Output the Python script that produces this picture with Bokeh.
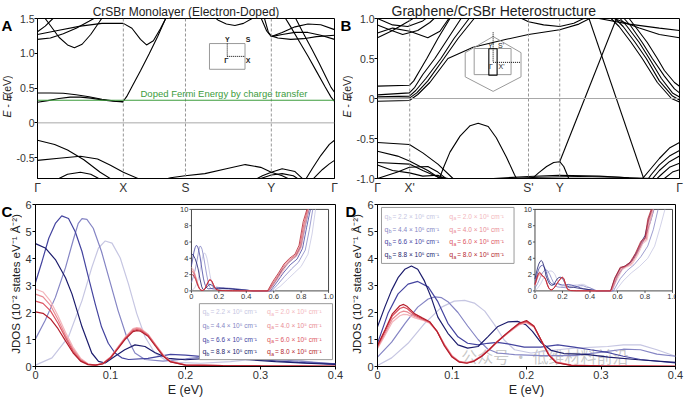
import math
from bokeh.plotting import figure
from bokeh.models import Range1d, FixedTicker, Span
from bokeh.layouts import column, row
from bokeh.embed import file_html
from bokeh.resources import INLINE
from bokeh.core.properties import value

FONT = "Liberation Sans"
GREEN = "#3c9c3c"
BLUES = ["#c6c6e2", "#8585c4", "#44449f", "#1c1c6c"]
REDS = ["#f3b6bc", "#e98b94", "#dc5461", "#b41e2c"]

# ================= Panel A : CrSBr monolayer =================
A_TITLE = "CrSBr Monolayer (Electron-Doped)"
A_KTICKS = [0.0, 1.0, 1.724, 2.724, 3.46]
A_KLABELS = ["Γ", "X", "S", "Y", "Γ"]
A_ETICKS = [-0.5, 0.0, 0.5, 1.0, 1.5]
A_ELABELS = ["-0.5", "0", "0.5", "1.0", "1.5"]
A_ERANGE = [-0.8, 1.5]
A_FERMI = 0.325
A_FERMI_TEXT = "Doped Fermi Energy by charge transfer"

A_CB1 = ([1.0, 1.04, 1.1, 1.2, 1.3, 1.4, 1.5], [0.31, 0.38, 0.52, 0.75, 0.99, 1.24, 1.52])
A_CB2 = ([1.0, 1.1, 1.2, 1.27, 1.35, 1.43, 1.52], [1.43, 1.36, 1.2, 1.12, 1.18, 1.35, 1.56])
A_FA = ([0.0, 0.15, 0.3, 0.45, 0.6, 0.75, 0.9, 1.0], [0.43, 0.43, 0.425, 0.405, 0.375, 0.34, 0.315, 0.305])
A_FB = ([0.0, 0.12, 0.25, 0.38, 0.5, 0.62, 0.75, 0.88, 1.0], [0.295, 0.32, 0.35, 0.37, 0.37, 0.355, 0.33, 0.31, 0.3])
A_TA1 = ([0.0, 0.25, 0.5, 0.75, 1.0], [1.27, 1.33, 1.39, 1.43, 1.43])
A_TA2 = ([0.0, 0.15, 0.3, 0.45, 0.6, 0.7], [1.2, 1.22, 1.28, 1.36, 1.46, 1.53])
A_TA3 = ([0.0, 0.09, 0.18, 0.22], [1.31, 1.39, 1.5, 1.55])
A_TA4 = ([0.06, 0.15, 0.25, 0.35, 0.43, 0.52, 0.62, 0.72, 0.78], [1.55, 1.4, 1.23, 1.12, 1.08, 1.13, 1.27, 1.45, 1.56])
A_SY1 = ([2.0, 2.1, 2.2, 2.3, 2.4, 2.5, 2.58], [1.58, 1.48, 1.42, 1.4, 1.43, 1.5, 1.58])
A_YG1 = ([2.6, 2.67, 2.724, 2.85, 3.0, 3.15, 3.3, 3.46], [1.52, 1.32, 1.24, 1.3, 1.38, 1.42, 1.41, 1.34])
A_YG2 = ([2.724, 2.85, 3.0, 3.15, 3.3, 3.46], [1.24, 1.27, 1.3, 1.3, 1.26, 1.2])
A_YG3 = ([2.64, 2.69, 2.724, 2.8, 2.95, 3.1, 3.25, 3.46], [1.52, 1.3, 1.25, 1.22, 1.2, 1.21, 1.24, 1.26])
A_CBR1 = ([3.46, 3.42, 3.35, 3.25, 3.15, 3.05, 2.95, 2.85], [0.31, 0.37, 0.52, 0.74, 0.96, 1.17, 1.38, 1.58])
A_CBR2 = ([3.46, 3.42, 3.36, 3.28, 3.2, 3.1, 3.0], [0.44, 0.51, 0.66, 0.86, 1.05, 1.28, 1.52])
A_VA1 = ([0.0, 0.2, 0.35, 0.54, 0.73, 0.86, 0.92], [-0.25, -0.31, -0.39, -0.53, -0.71, -0.81, -0.86])
A_VA2 = ([0.0, 0.25, 0.5, 0.7, 0.85, 1.0, 1.19, 1.3], [-0.54, -0.51, -0.48, -0.52, -0.61, -0.71, -0.81, -0.86])
A_VA3 = ([0.2, 0.35, 0.5, 0.62, 0.76], [-0.83, -0.74, -0.71, -0.74, -0.83])
A_VA4 = ([1.4, 1.55, 1.72, 1.95, 2.2, 2.42, 2.6, 2.724, 2.85, 2.97], [-0.84, -0.79, -0.76, -0.73, -0.66, -0.6, -0.64, -0.71, -0.76, -0.83])
A_VA5 = ([2.5, 2.62, 2.724, 2.85, 3.0, 3.12], [-0.84, -0.76, -0.71, -0.66, -0.7, -0.84])
A_VA6 = ([2.6, 2.724, 2.85, 2.98, 3.08], [-0.8, -0.75, -0.73, -0.76, -0.84])
A_VA7 = ([3.46, 3.4, 3.3, 3.2, 3.1], [-0.25, -0.31, -0.47, -0.66, -0.86])
A_VA8 = ([3.46, 3.4, 3.32, 3.24, 3.17], [-0.54, -0.59, -0.67, -0.77, -0.86])
BANDS_A = [A_CB1, A_CB2, A_FA, A_FB, A_TA1, A_TA2, A_TA3, A_TA4, A_SY1, A_YG1, A_YG2,
           A_YG3, A_CBR1, A_CBR2, A_VA1, A_VA2, A_VA3, A_VA4, A_VA5, A_VA6, A_VA7, A_VA8]

# ================= Panel B : Graphene/CrSBr =================
B_TITLE = "Graphene/CrSBr Heterostructure"
B_KTICKS = [0.0, 0.32, 1.5, 1.81, 3.0]
B_KLABELS = ["Γ", "X'", "S'", "Y", "Γ"]
B_ETICKS = [-1.0, -0.5, 0.0, 0.5, 1.0]
B_ELABELS = ["-1.0", "-0.5", "0", "0.5", "1.0"]
B_ERANGE = [-1.0, 1.0]

B_CL1 = ([0.0, 0.317, 0.36, 0.42, 0.49, 0.6, 0.72, 0.76], [0.155, 0.165, 0.22, 0.35, 0.5, 0.75, 1.0, 1.08])
B_CL2 = ([0.0, 0.317, 0.37, 0.45, 0.57, 0.7, 0.83, 0.87], [0.045, 0.07, 0.14, 0.3, 0.5, 0.75, 1.0, 1.08])
B_CL3 = ([0.0, 0.317, 0.38, 0.48, 0.63, 0.76, 0.91, 0.95], [0.02, 0.03, 0.1, 0.25, 0.5, 0.75, 1.0, 1.08])
B_CL4 = ([0.0, 0.317, 0.39, 0.5, 0.66, 0.8, 0.96, 1.0], [0.0, 0.005, 0.07, 0.22, 0.5, 0.75, 1.0, 1.08])
B_CL5 = ([0.0, 0.317, 0.4, 0.52, 0.7, 0.95, 1.28, 1.5, 1.81, 2.0, 2.14], [-0.035, -0.025, 0.05, 0.2, 0.5, 0.64, 0.74, 0.8, 0.86, 0.93, 1.02])
B_T1 = ([1.4, 1.5, 1.65, 1.81, 1.95, 2.08], [1.02, 0.96, 0.92, 0.9, 0.94, 1.02])
B_T2 = ([0.0, 0.15, 0.3, 0.38], [0.76, 0.85, 0.96, 1.02])
B_T3 = ([0.0, 0.15, 0.32, 0.5, 0.62, 0.72], [0.82, 0.88, 0.84, 0.76, 0.84, 1.02])
B_T4 = ([0.0, 0.12, 0.25, 0.4, 0.52, 0.58], [0.92, 0.86, 0.8, 0.85, 0.95, 1.02])
B_T5 = ([0.0, 0.15, 0.3, 0.45, 0.5], [1.0, 0.92, 0.9, 0.97, 1.02])
B_T6 = ([2.2, 2.5, 2.8, 3.0], [1.0, 0.93, 0.88, 0.85])
B_T7 = ([2.35, 2.6, 2.8, 3.0], [1.0, 0.88, 0.8, 0.76])
B_D1 = ([2.09, 2.655], [1.04, -1.04])
B_D2 = ([1.81, 2.38], [-0.79, 1.02])
B_V1 = ([0.6, 0.66, 0.72, 0.82, 0.92, 1.0, 1.1, 1.18, 1.28, 1.36, 1.4], [-1.05, -0.85, -0.67, -0.47, -0.34, -0.31, -0.35, -0.49, -0.73, -0.95, -1.05])
B_V2 = ([1.52, 1.6, 1.68, 1.75, 1.81, 1.85, 1.9], [-1.02, -0.93, -0.85, -0.8, -0.79, -0.85, -1.0])
B_F1 = ([1.15, 1.5, 1.8, 2.2, 2.5, 2.75], [-1.0, -0.975, -0.96, -0.97, -0.99, -1.0])
B_F2 = ([1.3, 1.6, 2.0, 2.4, 2.6], [-1.0, -0.985, -0.975, -0.985, -1.0])
B_VL1 = ([0.0, 0.317, 0.45, 0.6, 0.75], [-0.55, -0.575, -0.68, -0.82, -1.0])
B_VL2 = ([0.0, 0.2, 0.317, 0.5, 0.62], [-0.66, -0.72, -0.78, -0.9, -1.0])
B_VL3 = ([0.0, 0.317, 0.45, 0.6, 0.8], [-0.8, -0.82, -0.9, -0.98, -1.02])
B_VL4 = ([0.0, 0.15, 0.317, 0.45, 0.6, 0.7], [-0.83, -0.9, -0.93, -0.97, -0.96, -1.02])
B_VL5 = ([0.0, 0.2, 0.317, 0.5, 0.6, 0.7], [-1.0, -0.92, -0.86, -0.85, -0.92, -1.02])
B_R1 = ([3.0, 2.95, 2.85, 2.78, 2.68, 2.56, 2.5, 2.47], [0.153, 0.2, 0.35, 0.5, 0.7, 0.9, 1.0, 1.05])
B_R2 = ([3.0, 2.95, 2.85, 2.73, 2.63, 2.52, 2.45, 2.42], [0.07, 0.12, 0.28, 0.5, 0.7, 0.9, 1.0, 1.05])
B_R3 = ([3.0, 2.93, 2.82, 2.7, 2.6, 2.48, 2.41, 2.38], [0.02, 0.07, 0.25, 0.5, 0.7, 0.9, 1.0, 1.05])
B_R4 = ([3.0, 2.93, 2.8, 2.67, 2.56, 2.44, 2.36, 2.33], [-0.02, 0.03, 0.22, 0.5, 0.7, 0.9, 1.0, 1.05])
B_R5 = ([3.0, 2.92, 2.78, 2.63, 2.52, 2.4, 2.32, 2.29], [-0.045, 0.0, 0.2, 0.5, 0.7, 0.9, 1.0, 1.05])
B_RV1 = ([3.0, 2.9, 2.8, 2.7, 2.62], [-0.55, -0.62, -0.75, -0.9, -1.02])
B_RV2 = ([3.0, 2.9, 2.8, 2.72, 2.68], [-0.65, -0.72, -0.83, -0.95, -1.02])
B_RV3 = ([3.0, 2.9, 2.8, 2.72], [-0.72, -0.79, -0.9, -1.02])
B_RV4 = ([3.0, 2.9, 2.82, 2.76], [-0.81, -0.86, -0.95, -1.02])
B_RV5 = ([2.85, 2.93, 3.0], [-1.0, -0.92, -0.89])
BANDS_B = [B_CL1, B_CL2, B_CL3, B_CL4, B_CL5, B_T1, B_T2, B_T3, B_T4, B_T5, B_T6, B_T7,
           B_D1, B_D2, B_V1, B_V2, B_F1, B_F2, B_VL1, B_VL2, B_VL3, B_VL4, B_VL5,
           B_R1, B_R2, B_R3, B_R4, B_R5, B_RV1, B_RV2, B_RV3, B_RV4, B_RV5]

# ================= JDOS common =================
JD_ETICKS = [0.0, 0.1, 0.2, 0.3, 0.4]
JD_ELABELS = ["0", "0.1", "0.2", "0.3", "0.4"]
JD_JTICKS = [0, 1, 2, 3, 4, 5, 6]
JD_XLABEL = "E (eV)"
JD_YLABEL = "JDOS (10⁻² states eV⁻¹ Å⁻²)"
INSET_XLIM = [0.0, 1.0]
INSET_YLIM = [0.0, 10.0]
INSET_XTICKS = [0.0, 0.2, 0.4, 0.6, 0.8, 1.0]
INSET_XLABELS = ["0", "0.2", "0.4", "0.6", "0.8", "1.0"]
INSET_YTICKS = [0, 2, 4, 6, 8, 10]
INSET_YLABELS = ["0", "2", "4", "6", "8", "10"]
Q_B = ["2.2", "4.4", "6.6", "8.8"]
Q_A = ["2.0", "4.0", "6.0", "8.0"]

# ---- Panel C (monolayer) ----
C_B22 = ([0, 0.022, 0.044, 0.062, 0.075, 0.084, 0.093, 0.102, 0.113, 0.124, 0.135, 0.146, 0.159, 0.172, 0.19, 0.22, 0.26, 0.3, 0.34, 0.37, 0.4],
         [0.05, 0.32, 1.1, 2.44, 3.66, 4.39, 4.65, 4.57, 4.02, 3.05, 1.96, 1.1, 0.5, 0.26, 0.15, 0.12, 0.18, 0.3, 0.28, 0.15, 0.05])
C_B44 = ([0, 0.013, 0.0265, 0.04, 0.051, 0.057, 0.062, 0.0685, 0.077, 0.088, 0.099, 0.11, 0.1215, 0.1326, 0.146, 0.17, 0.2, 0.23, 0.27, 0.32, 0.36, 0.4],
         [1.02, 1.71, 2.56, 3.66, 4.75, 5.3, 5.48, 5.45, 5.12, 4.26, 3.17, 2.08, 1.1, 0.5, 0.26, 0.2, 0.28, 0.38, 0.34, 0.26, 0.18, 0.1])
C_B66 = ([0, 0.0088, 0.0177, 0.0265, 0.035, 0.044, 0.053, 0.062, 0.0707, 0.0796, 0.088, 0.097, 0.106, 0.115, 0.124, 0.15, 0.18, 0.2, 0.25, 0.3, 0.35, 0.4],
         [3.11, 3.9, 4.75, 5.3, 5.58, 5.48, 4.99, 4.26, 3.29, 2.32, 1.47, 0.86, 0.5, 0.32, 0.26, 0.3, 0.45, 0.42, 0.3, 0.25, 0.15, 0.1])
C_B88 = ([0, 0.013, 0.0265, 0.04, 0.0486, 0.062, 0.075, 0.084, 0.093, 0.106, 0.119, 0.1326, 0.146, 0.159, 0.177, 0.2, 0.23, 0.27, 0.32, 0.36, 0.4],
         [4.55, 4.39, 3.96, 3.29, 2.69, 1.47, 0.5, 0.19, 0.13, 0.38, 0.62, 0.8, 0.74, 0.52, 0.3, 0.25, 0.3, 0.28, 0.18, 0.12, 0.08])
C_RED_E = [0, 0.01, 0.02, 0.03, 0.04, 0.05, 0.06, 0.07, 0.08, 0.09, 0.1, 0.11, 0.12, 0.13, 0.135, 0.14, 0.15, 0.16, 0.17, 0.18, 0.2, 0.25, 0.3, 0.4]
C_A20 = [2.87, 2.76, 2.42, 1.88, 1.27, 0.72, 0.31, 0.1, 0.05, 0.12, 0.35, 0.73, 1.1, 1.4, 1.44, 1.42, 1.2, 0.82, 0.45, 0.2, 0.06, 0.03, 0.02, 0.01]
C_A40 = [2.68, 2.58, 2.26, 1.74, 1.16, 0.64, 0.27, 0.09, 0.05, 0.12, 0.34, 0.71, 1.08, 1.37, 1.41, 1.39, 1.18, 0.8, 0.43, 0.19, 0.06, 0.03, 0.02, 0.01]
C_A60 = [2.42, 2.34, 2.06, 1.6, 1.07, 0.57, 0.23, 0.08, 0.05, 0.11, 0.33, 0.69, 1.05, 1.33, 1.37, 1.35, 1.15, 0.78, 0.41, 0.18, 0.05, 0.03, 0.02, 0.01]
C_A80 = [2.02, 1.97, 1.76, 1.4, 0.95, 0.51, 0.2, 0.07, 0.05, 0.1, 0.31, 0.66, 1.02, 1.29, 1.33, 1.31, 1.12, 0.75, 0.39, 0.17, 0.05, 0.03, 0.02, 0.01]
# high-energy parts shown only in the inset
C_B22_HI = ([0.45, 0.6, 0.65, 0.7, 0.75, 0.8, 0.85, 0.88, 0.905], [0, 0, 0.6, 1.4, 2.2, 3.0, 4.5, 7.0, 10])
C_B44_HI = ([0.45, 0.585, 0.63, 0.68, 0.73, 0.78, 0.83, 0.86, 0.885], [0, 0, 0.8, 1.8, 2.7, 3.5, 5.0, 7.5, 10])
C_B66_HI = ([0.45, 0.575, 0.62, 0.67, 0.72, 0.77, 0.81, 0.84, 0.868], [0, 0, 1.0, 2.2, 3.2, 3.9, 5.2, 7.8, 10])
C_B88_HI = ([0.45, 0.565, 0.61, 0.66, 0.71, 0.76, 0.8, 0.83, 0.857], [0, 0, 1.1, 2.5, 3.5, 4.2, 5.5, 8.0, 10])
C_A20_HI = ([0.45, 0.57, 0.61, 0.65, 0.69, 0.73, 0.77, 0.8, 0.83, 0.855], [0, 0, 1.0, 1.9, 3.0, 3.8, 4.3, 5.2, 8.0, 10])
C_A40_HI = ([0.45, 0.565, 0.605, 0.645, 0.685, 0.725, 0.765, 0.795, 0.825, 0.851], [0, 0, 1.05, 2.0, 3.1, 3.85, 4.35, 5.3, 8.1, 10])
C_A60_HI = ([0.45, 0.56, 0.6, 0.64, 0.68, 0.72, 0.76, 0.79, 0.82, 0.847], [0, 0, 1.1, 2.1, 3.2, 3.9, 4.4, 5.4, 8.2, 10])
C_A80_HI = ([0.45, 0.555, 0.595, 0.635, 0.675, 0.715, 0.755, 0.785, 0.815, 0.842], [0, 0, 1.2, 2.2, 3.3, 4.0, 4.5, 5.6, 8.5, 10])

# ---- Panel D (heterostructure) ----
D_B22 = ([0, 0.019, 0.041, 0.063, 0.086, 0.103, 0.117, 0.13, 0.144, 0.157, 0.17, 0.184, 0.206, 0.242, 0.264, 0.309, 0.33, 0.353, 0.375, 0.4],
         [0.04, 0.32, 0.86, 1.59, 2.2, 2.42, 2.45, 2.35, 2.05, 1.55, 0.98, 0.62, 0.5, 0.62, 0.68, 0.74, 0.8, 0.8, 0.62, 0.38])
D_B44 = ([0, 0.019, 0.037, 0.054, 0.068, 0.077, 0.086, 0.0945, 0.108, 0.121, 0.135, 0.148, 0.161, 0.184, 0.219, 0.264, 0.309, 0.33, 0.353, 0.375, 0.4],
         [0.35, 0.9, 1.6, 2.2, 2.5, 2.58, 2.55, 2.4, 2.0, 1.5, 1.0, 0.65, 0.5, 0.44, 0.4, 0.4, 0.56, 0.64, 0.62, 0.46, 0.38])
D_B66 = ([0, 0.014, 0.0276, 0.041, 0.054, 0.068, 0.081, 0.0945, 0.108, 0.121, 0.135, 0.148, 0.161, 0.175, 0.197, 0.219, 0.242, 0.264, 0.286, 0.309, 0.33, 0.353, 0.4],
         [0.86, 1.96, 2.69, 3.05, 3.15, 2.95, 2.4, 1.6, 1.1, 0.86, 0.8, 0.86, 0.89, 0.84, 0.72, 0.72, 0.8, 0.72, 0.62, 0.52, 0.38, 0.26, 0.13])
D_B88 = ([0, 0.0098, 0.0187, 0.0276, 0.0366, 0.0455, 0.054, 0.063, 0.072, 0.081, 0.0945, 0.108, 0.121, 0.135, 0.148, 0.161, 0.175, 0.188, 0.199, 0.208, 0.219, 0.233, 0.25, 0.28, 0.31, 0.35, 0.4],
         [1.47, 2.2, 2.81, 3.29, 3.6, 3.72, 3.6, 3.17, 2.56, 1.83, 1.23, 0.8, 0.68, 0.74, 1.1, 1.47, 1.65, 1.67, 1.55, 1.3, 0.9, 0.6, 0.48, 0.45, 0.35, 0.25, 0.15])
D_RED_E = [0, 0.01, 0.02, 0.03, 0.035, 0.04, 0.05, 0.06, 0.07, 0.08, 0.09, 0.1, 0.11, 0.12, 0.13, 0.14, 0.15, 0.16, 0.17, 0.18, 0.19, 0.2, 0.21, 0.22, 0.23, 0.24, 0.26, 0.3, 0.4]
D_A20 = [0.66, 1.15, 1.65, 1.88, 1.93, 1.92, 1.8, 1.72, 1.6, 1.3, 0.82, 0.41, 0.19, 0.15, 0.23, 0.41, 0.65, 0.9, 1.12, 1.33, 1.54, 1.62, 1.46, 0.97, 0.47, 0.17, 0.05, 0.02, 0.01]
D_A40 = [0.7, 1.22, 1.76, 2.0, 2.05, 2.02, 1.85, 1.74, 1.62, 1.3, 0.8, 0.39, 0.18, 0.14, 0.22, 0.4, 0.64, 0.9, 1.13, 1.35, 1.56, 1.64, 1.47, 0.96, 0.45, 0.16, 0.05, 0.02, 0.01]
D_A60 = [0.74, 1.3, 1.88, 2.15, 2.2, 2.14, 1.9, 1.77, 1.64, 1.3, 0.78, 0.37, 0.17, 0.13, 0.21, 0.39, 0.63, 0.9, 1.14, 1.37, 1.58, 1.67, 1.48, 0.95, 0.43, 0.15, 0.04, 0.02, 0.01]
D_A80 = [0.78, 1.35, 1.95, 2.25, 2.3, 2.22, 1.95, 1.8, 1.66, 1.3, 0.75, 0.35, 0.16, 0.12, 0.2, 0.38, 0.62, 0.9, 1.15, 1.38, 1.6, 1.7, 1.5, 0.95, 0.42, 0.14, 0.04, 0.02, 0.01]
D_B22_HI = ([0.45, 0.585, 0.64, 0.7, 0.76, 0.82, 0.87, 0.91, 0.945], [0, 0, 1.2, 2.2, 3.0, 4.0, 5.5, 7.8, 10])
D_B44_HI = ([0.45, 0.57, 0.62, 0.67, 0.72, 0.77, 0.82, 0.86, 0.895], [0, 0, 1.5, 2.5, 3.2, 4.2, 5.5, 7.5, 10])
D_B66_HI = ([0.45, 0.56, 0.6, 0.64, 0.68, 0.72, 0.76, 0.8, 0.84, 0.865], [0, 0, 1.8, 2.8, 3.2, 4.0, 5.2, 6.5, 8.5, 10])
D_B88_HI = ([0.45, 0.55, 0.58, 0.62, 0.66, 0.7, 0.74, 0.78, 0.8, 0.83, 0.852], [0, 0, 1.5, 2.8, 3.1, 3.6, 4.8, 6.2, 6.8, 9.0, 10])
D_A20_HI = ([0.45, 0.558, 0.595, 0.635, 0.665, 0.705, 0.745, 0.785, 0.815, 0.835, 0.862], [0, 0, 1.3, 2.6, 2.9, 3.2, 4.3, 5.8, 6.2, 8.2, 10])
D_A40_HI = ([0.45, 0.555, 0.59, 0.63, 0.66, 0.7, 0.74, 0.78, 0.81, 0.83, 0.856], [0, 0, 1.4, 2.7, 2.95, 3.3, 4.4, 5.9, 6.3, 8.4, 10])
D_A60_HI = ([0.45, 0.552, 0.585, 0.625, 0.655, 0.695, 0.735, 0.775, 0.805, 0.825, 0.85], [0, 0, 1.5, 2.8, 3.0, 3.4, 4.5, 6.0, 6.4, 8.6, 10])
D_A80_HI = ([0.45, 0.55, 0.58, 0.62, 0.65, 0.69, 0.73, 0.77, 0.8, 0.82, 0.845], [0, 0, 1.6, 2.9, 3.0, 3.5, 4.6, 6.1, 6.5, 8.8, 10])

WATERMARK = "公众号 · 低维材料前沿"


# ================= helpers =================
def base_fig(w, h, bl, br, bt, bb, xr, yr, title=None, title_size="12px", title_align="center", title_offset=0):
    p = figure(width=w, height=h, x_range=Range1d(xr[0], xr[1]), y_range=Range1d(yr[0], yr[1]),
               output_backend="svg", toolbar_location=None, title=title,
               min_border_left=bl, min_border_right=br, min_border_top=bt, min_border_bottom=bb)
    p.grid.visible = False
    p.outline_line_color = "black"
    p.outline_line_width = 1
    p.outline_line_alpha = 1
    for ax in p.axis:
        ax.axis_line_color = "black"
        ax.major_tick_line_color = "black"
        ax.minor_tick_line_color = None
        ax.major_tick_out = 3
        ax.major_tick_in = 0
        ax.major_label_standoff = 1
        ax.major_label_text_font = FONT
        ax.major_label_text_font_size = "11px"
        ax.major_label_text_color = "#333333"
        ax.axis_label_text_font = FONT
        ax.axis_label_text_font_style = "normal"
        ax.axis_label_text_font_size = "12.5px"
        ax.axis_label_text_color = "#222222"
        ax.axis_label_standoff = 1
    if title is not None:
        p.title.align = title_align
        p.title.text_font = FONT
        p.title.text_font_size = title_size
        p.title.text_font_style = "normal"
        p.title.text_color = "#222222"
        p.title.standoff = 0
        p.title.offset = title_offset
    return p


def side_fig(w, h):
    """Narrow text-only strip holding panel letters and y labels (1 unit = 1 px)."""
    s = figure(width=w, height=h, x_range=Range1d(0, w), y_range=Range1d(h, 0),
               output_backend="svg", toolbar_location=None, min_border=0,
               x_axis_location=None, y_axis_location=None)
    s.grid.visible = False
    s.outline_line_color = None
    return s


def stext(s, x, y, txt, size, style="normal", angle=0.0, align="left", baseline="middle", color="#222222"):
    s.text(x=[x], y=[y], text=[txt], angle=angle, text_font=value(FONT), text_font_size=size,
           text_font_style=style, text_align=align, text_baseline=baseline, text_color=color)


def letter(s, txt, x, y):
    stext(s, x, y, txt, "15px", style="bold", color="black")


def ylabel_ef(s, x, y0):
    a = math.pi / 2
    stext(s, x, y0, "E - E", "10.5px", style="italic", angle=a)
    stext(s, x + 2.2, y0 - 23.5, "F", "6.5px", angle=a)
    stext(s, x, y0 - 27.5, " (eV)", "10.5px", angle=a)


def add_ranges(p, frame, insets=None):
    fl, fr, ft, fb = frame
    xr = {"pix": Range1d(fl, fr)}
    yr = {"pix": Range1d(fb, ft)}
    if insets:
        for name, box in insets.items():
            il, ir, it, ib = box
            sx = (ir - il) / (INSET_XLIM[1] - INSET_XLIM[0])
            sy = (ib - it) / (INSET_YLIM[1] - INSET_YLIM[0])
            xr[name] = Range1d(INSET_XLIM[0] - (il - fl) / sx, INSET_XLIM[1] + (fr - ir) / sx)
            yr[name] = Range1d(INSET_YLIM[0] - (fb - ib) / sy, INSET_YLIM[1] + (it - ft) / sy)
    p.extra_x_ranges = xr
    p.extra_y_ranges = yr


def band_panel(p, bands, kticks, klabels, eticks, elabels):
    p.xaxis.ticker = FixedTicker(ticks=kticks)
    p.xaxis.major_label_overrides = {float(k): l for k, l in zip(kticks, klabels)}
    p.xaxis.major_tick_out = 0
    p.xaxis.major_label_standoff = 2
    p.xaxis.major_label_text_font_size = "12px"
    p.yaxis.ticker = FixedTicker(ticks=eticks)
    p.yaxis.major_label_overrides = {float(e): l for e, l in zip(eticks, elabels)}
    p.yaxis.major_label_standoff = 0
    p.yaxis.major_label_text_font_size = "10.5px"
    for k in kticks[1:-1]:
        p.add_layout(Span(location=k, dimension="height", line_color="#8a8a8a",
                          line_dash="3 2", line_width=0.9))
    p.add_layout(Span(location=0, dimension="width", line_color="#a8a8a8", line_width=1))
    for k, e in bands:
        p.line(k, e, line_color="black", line_width=1.1)


def ptext(p, xs, ys, texts, size, color="#222222", align="center", baseline="middle",
          style="normal", xo=0, yo=0, rn="pix", font=FONT, alpha=1.0):
    p.text(x=xs, y=ys, text=texts, x_range_name=rn, y_range_name=rn,
           text_font=value(font), text_font_size=size, text_color=color,
           text_align=align, text_baseline=baseline, text_font_style=style,
           x_offset=xo, y_offset=yo, text_alpha=alpha)


def jdos_panel(p, blue, red_e, reds, blue_hi, red_hi, inset_name):
    p.xaxis.ticker = FixedTicker(ticks=JD_ETICKS)
    p.xaxis.major_label_overrides = {float(e): l for e, l in zip(JD_ETICKS, JD_ELABELS)}
    p.yaxis.ticker = FixedTicker(ticks=JD_JTICKS)
    p.xaxis.axis_label = JD_XLABEL
    for (e, j), c in zip(blue, BLUES):
        p.line(e, j, line_color=c, line_width=1.2)
    for j, c in zip(reds, REDS):
        p.line(red_e, j, line_color=c, line_width=1.2)
    # inset
    rn = inset_name
    p.quad(left=[INSET_XLIM[0]], right=[INSET_XLIM[1]], bottom=[INSET_YLIM[0]], top=[INSET_YLIM[1]],
           x_range_name=rn, y_range_name=rn, fill_color="white", line_color="#333333", line_width=0.9)
    for (e, j), (eh, jh), c in zip(blue, blue_hi, BLUES):
        p.line(list(e) + list(eh), list(j) + list(jh), line_color=c, line_width=0.8,
               x_range_name=rn, y_range_name=rn)
    for j, (eh, jh), c in zip(reds, red_hi, REDS):
        p.line(list(red_e) + list(eh), list(j) + list(jh), line_color=c, line_width=0.8,
               x_range_name=rn, y_range_name=rn)
    n = len(INSET_XTICKS)
    tl_y = 0.25 * (INSET_YLIM[1] - INSET_YLIM[0]) / 10.0
    tl_x = 0.015 * (INSET_XLIM[1] - INSET_XLIM[0])
    p.segment(x0=INSET_XTICKS, y0=[INSET_YLIM[0]] * n, x1=INSET_XTICKS, y1=[INSET_YLIM[0] - tl_y] * n,
              x_range_name=rn, y_range_name=rn, line_color="#333333", line_width=0.8)
    ptext(p, INSET_XTICKS, [INSET_YLIM[0]] * n, INSET_XLABELS, "7.5px", color="#333333",
          baseline="top", yo=3, rn=rn)
    m = len(INSET_YTICKS)
    p.segment(x0=[INSET_XLIM[0]] * m, y0=INSET_YTICKS, x1=[INSET_XLIM[0] - tl_x] * m, y1=INSET_YTICKS,
              x_range_name=rn, y_range_name=rn, line_color="#333333", line_width=0.8)
    ptext(p, [INSET_XLIM[0]] * m, INSET_YTICKS, INSET_YLABELS, "7.5px", color="#333333",
          align="right", xo=-3, rn=rn)


def legend_box(p, box, rows_y, cols_x):
    l, r, t, b = box
    p.quad(left=[l], right=[r], top=[t], bottom=[b], x_range_name="pix", y_range_name="pix",
           fill_color="white", line_color="#9a9a9a", line_width=1)
    for col, (qs, sub, colors) in zip(cols_x, [(Q_B, "b", BLUES), (Q_A, "a", REDS)]):
        for y, q, c in zip(rows_y, qs, colors):
            ptext(p, [col], [y], ["q"], "7px", color=c, align="left")
            ptext(p, [col], [y], [sub], "5px", color=c, align="left", xo=4.2, yo=2)
            ptext(p, [col], [y], ["= " + q + " × 10⁵ cm⁻¹"], "6.5px", color=c, align="left", xo=8)


TOP_H = 197
BOT_H = 202

# ================= Panel A =================
sA = side_fig(13, TOP_H)
letter(sA, "A", 1, 9)
ylabel_ef(sA, 6.5, 122)

FRAME_A = (33, 334, 14, 180)
pA = base_fig(327, TOP_H, 20, 6, 14, 17, (A_KTICKS[0], A_KTICKS[-1]), A_ERANGE,
              title=A_TITLE, title_size="12px")
add_ranges(pA, FRAME_A)
band_panel(pA, BANDS_A, A_KTICKS, A_KLABELS, A_ETICKS, A_ELABELS)
pA.add_layout(Span(location=A_FERMI, dimension="width", line_color=GREEN, line_width=1.2))
pA.text(x=[1.2], y=[A_FERMI], text=[A_FERMI_TEXT], text_font=value(FONT), text_font_size="9.5px",
        text_color=GREEN, text_align="left", text_baseline="bottom", y_offset=-1)
# Brillouin zone sketch
pA.quad(left=[207.3], right=[243.3], top=[40], bottom=[66.7], x_range_name="pix", y_range_name="pix",
        fill_alpha=0, line_color="#9a9a9a", line_width=1)
pA.segment(x0=[225.3, 225.3], y0=[40, 53.3], x1=[225.3, 243.3], y1=[53.3, 53.3],
           x_range_name="pix", y_range_name="pix", line_color="black", line_width=1, line_dash="1 1")
ptext(pA, [225.3, 246.5, 224.5, 246.5], [35.5, 35.5, 57.8, 57.8], ["Y", "S", "Γ", "X"], "7px",
      color="#222222", style="bold")

# ================= Panel B =================
sB = side_fig(13, TOP_H)
letter(sB, "B", 0, 9)
ylabel_ef(sB, 6.5, 122)

FRAME_B = (376, 679, 14.7, 180)
pB = base_fig(332, TOP_H, 23, 6, 14, 17, (B_KTICKS[0], B_KTICKS[-1]), B_ERANGE,
              title=B_TITLE, title_size="14px", title_align="left", title_offset=14)
add_ranges(pB, FRAME_B)
band_panel(pB, BANDS_B, B_KTICKS, B_KLABELS, B_ETICKS, B_ELABELS)
pB.patch(x=[492, 520, 520, 492, 464, 464], y=[33.3, 50, 75, 90, 75, 50], x_range_name="pix",
         y_range_name="pix", fill_alpha=0, line_color="#9a9a9a", line_width=1)
pB.quad(left=[473], right=[510], top=[45.7], bottom=[72.7], x_range_name="pix", y_range_name="pix",
        fill_alpha=0, line_color="#9a9a9a", line_width=1)
pB.quad(left=[487.7], right=[496], top=[46], bottom=[73.3], x_range_name="pix", y_range_name="pix",
        fill_alpha=0, line_color="black", line_width=1.1)
pB.segment(x0=[492, 492], y0=[29, 60], x1=[492, 519], y1=[60, 60], x_range_name="pix",
           y_range_name="pix", line_color="black", line_width=1, line_dash="1 1")
ptext(pB, [489.8, 500, 489.8, 500.5], [43, 43, 64, 64.5], ["Y'", "S'", "Γ", "X'"], "7px", color="#222222")

# ================= Panel C =================
sC = side_fig(22, BOT_H)
letter(sC, "C", 1, 9)
stext(sC, 15.3, 99, JD_YLABEL, "11.5px", angle=math.pi / 2, align="center")

FRAME_C = (33, 335, 204, 369)
INSET_C = (190, 328, 209, 292)
pC = base_fig(323, BOT_H, 11, 10, 7, 30, (JD_ETICKS[0], JD_ETICKS[-1]), (JD_JTICKS[0], JD_JTICKS[-1]))
add_ranges(pC, FRAME_C, {"inC": INSET_C})
jdos_panel(pC, [C_B22, C_B44, C_B66, C_B88], C_RED_E, [C_A20, C_A40, C_A60, C_A80],
           [C_B22_HI, C_B44_HI, C_B66_HI, C_B88_HI], [C_A20_HI, C_A40_HI, C_A60_HI, C_A80_HI], "inC")
legend_box(pC, (198, 332, 305, 362), [313, 327, 341, 354], [201, 266])

# ================= Panel D =================
sD = side_fig(19, BOT_H)
letter(sD, "D", 0, 9)
stext(sD, 11, 99, JD_YLABEL, "11.5px", angle=math.pi / 2, align="center")

FRAME_D = (376, 675, 204, 369)
INSET_D = (534, 672, 209, 292)
pD = base_fig(321, BOT_H, 12, 10, 7, 30, (JD_ETICKS[0], JD_ETICKS[-1]), (JD_JTICKS[0], JD_JTICKS[-1]))
add_ranges(pD, FRAME_D, {"inD": INSET_D})
ptext(pD, [460], [358], [WATERMARK], "16px", color="#9a9a9a", align="left",
      font="Noto Sans CJK SC", alpha=0.55)
jdos_panel(pD, [D_B22, D_B44, D_B66, D_B88], D_RED_E, [D_A20, D_A40, D_A60, D_A80],
           [D_B22_HI, D_B44_HI, D_B66_HI, D_B88_HI], [D_A20_HI, D_A40_HI, D_A60_HI, D_A80_HI], "inD")
legend_box(pD, (380, 513, 207, 264), [216, 229, 242, 255], [383, 448])

layout = column(row(sA, pA, sB, pB), row(sC, pC, sD, pD))
open("out.html", "w").write(file_html(layout, INLINE, "CrSBr bands and JDOS"))
